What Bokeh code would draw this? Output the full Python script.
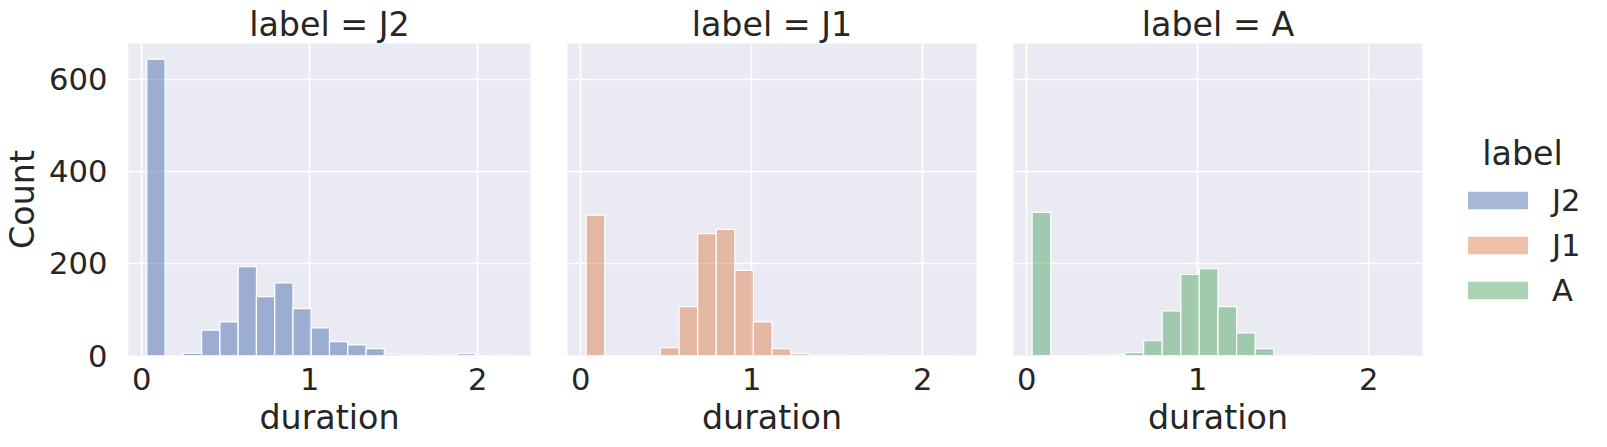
from bokeh.plotting import figure
from bokeh.layouts import row
from bokeh.models import FixedTicker, Legend, LegendItem, Range1d, ColumnDataSource, Label
from bokeh.embed import file_html
from bokeh.resources import INLINE

# ---- data ----
bin_edges = [0.031, 0.1397, 0.2484, 0.3571, 0.4658, 0.5745, 0.6832, 0.7919, 0.9006,
             1.0093, 1.118, 1.2267, 1.3354, 1.4441, 1.5528, 1.6615, 1.7702, 1.8789,
             1.9876, 2.0963, 2.205]
labels = ["J2", "J1", "A"]
counts_J2 = [644, 0, 5, 55, 73, 193, 128, 158, 102, 60, 30, 23, 15, 3, 1, 0, 1, 4, 0, 1]
counts_J1 = [305, 0, 0, 0, 17, 106, 265, 274, 185, 73, 15, 4, 1, 1, 0, 1, 0, 0, 0, 0]
counts_A = [311, 0, 0, 1, 2, 6, 32, 97, 176, 189, 106, 49, 15, 1, 1, 0, 0, 0, 0, 0]
colors = ["#4c72b0", "#dd8452", "#55a868"]
x_ticks = [0, 1, 2]
y_ticks = [0, 200, 400, 600]

series = {"J2": counts_J2, "J1": counts_J1, "A": counts_A}

FONT = "DejaVu Sans"
TXT = "#262626"
BG = "#eaeaf2"
BIG = "33.3px"
SMALL = "30.6px"

x_range = Range1d(-0.078, 2.314)
y_range = Range1d(0, 678)

widths = [548, 446, 446]
borders_left = [121, 19, 19]
borders_right = [18, 18, 18]
TOP, BOTTOM = 43, 92

figs = []
for i, lab in enumerate(labels):
    p = figure(width=widths[i], height=447, x_range=x_range, y_range=y_range,
               output_backend="svg", toolbar_location=None,
               min_border_left=borders_left[i], min_border_right=borders_right[i],
               min_border_top=TOP, min_border_bottom=BOTTOM,
               background_fill_color=BG, border_fill_color="white",
               outline_line_color=None)
    p.title.text = f"label = {lab}"
    p.title.align = "center"
    p.title.text_font = FONT
    p.title.text_font_size = BIG
    p.title.text_font_style = "normal"
    p.title.text_color = TXT
    p.title.offset = 0
    p.title.standoff = 0

    src = ColumnDataSource(dict(left=bin_edges[:-1], right=bin_edges[1:],
                                top=series[lab], bottom=[0] * len(series[lab])))
    p.quad(left="left", right="right", top="top", bottom="bottom", source=src,
           fill_color=colors[i], fill_alpha=0.5, line_color="white", line_width=1.2)

    p.grid.grid_line_color = "white"
    p.grid.grid_line_width = 1.5
    p.xaxis.ticker = FixedTicker(ticks=x_ticks)
    p.yaxis.ticker = FixedTicker(ticks=y_ticks)
    for ax in [p.xaxis[0], p.yaxis[0]]:
        ax.axis_line_color = None
        ax.major_tick_line_color = None
        ax.minor_tick_line_color = None
        ax.major_tick_out = 0
        ax.major_tick_in = 0
        ax.major_label_text_font = FONT
        ax.major_label_text_font_size = SMALL
        ax.major_label_text_color = TXT
        ax.axis_label_text_font = FONT
        ax.axis_label_text_font_size = BIG
        ax.axis_label_text_font_style = "normal"
        ax.axis_label_text_color = TXT
    p.xaxis.axis_label = "duration"
    p.xaxis.major_label_standoff = 12
    p.xaxis.axis_label_standoff = 5
    if i == 0:
        p.yaxis.axis_label = "Count"
        p.yaxis.major_label_standoff = 21
        p.yaxis.axis_label_standoff = 4
        p.yaxis.major_label_text_align = "right"
    else:
        p.yaxis.major_label_text_font_size = "0px"
        p.yaxis.major_label_text_color = None
        p.yaxis.major_label_standoff = 0
    figs.append(p)

# ---- legend figure ----
lw = 1607 - sum(widths)
pl = figure(width=lw, height=447, x_range=(0, 1), y_range=(0, 1),
            output_backend="svg", toolbar_location=None,
            min_border_left=0, min_border_right=0,
            min_border_top=TOP, min_border_bottom=BOTTOM,
            outline_line_color=None, background_fill_color="white")
pl.axis.visible = False
pl.grid.visible = False
items = []
for lab, c in zip(labels, colors):
    r = pl.quad(left=[5], right=[6], top=[5], bottom=[4], fill_color=c, fill_alpha=0.5,
                line_color=c, line_alpha=0.0)
    items.append(LegendItem(label=lab, renderers=[r]))
frame_bottom = 447 - BOTTOM
legend = Legend(items=items, location=(20, frame_bottom - 309),
                glyph_width=75, glyph_height=22, label_standoff=17, label_height=38,
                label_text_font=FONT, label_text_font_size=SMALL, label_text_color=TXT,
                label_text_baseline="middle",
                spacing=7, padding=0, margin=0,
                border_line_color=None, background_fill_alpha=0)
pl.add_layout(legend, "center")
pl.add_layout(Label(x=82, y=frame_bottom - 153, x_units="screen", y_units="screen",
                    text="label", text_align="center", text_baseline="middle",
                    text_font=FONT, text_font_size=BIG, text_color=TXT))

layout = row(*figs, pl, spacing=0)
open("out.html", "w").write(file_html(layout, INLINE))
